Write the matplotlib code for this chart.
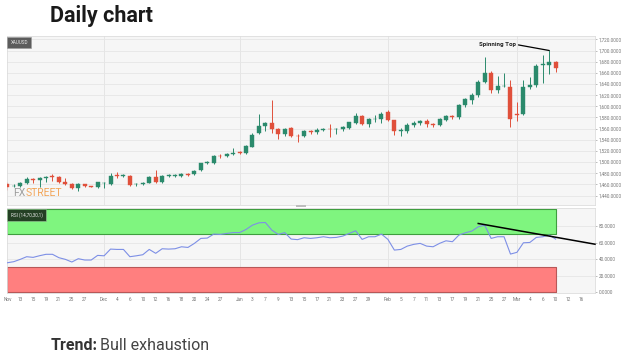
import numpy as np
import pandas as pd
import matplotlib
matplotlib.use("Agg")
import matplotlib.pyplot as plt
from matplotlib.patches import Rectangle

plt.rcParams['font.family'] = ['Roboto', 'DejaVu Sans']

# trading days shown on the chart (Dec 25 closed), plus a few future slots
all_days = pd.bdate_range('2019-11-11', '2020-03-16')
all_days = all_days[all_days != pd.Timestamp('2019-12-25')]

opens = [1460.7, 1456.5, 1457.7, 1463.1, 1469.5, 1467.9, 1472.0, 1474.5, 1473.9, 1463.7,
         1460.1, 1452.9, 1460.1, 1456.6, 1456.0, 1462.0, 1460.7, 1476.2, 1475.3, 1475.1,
         1460.3, 1460.7, 1463.1, 1473.9, 1464.5, 1475.3, 1475.5, 1475.1, 1478.6, 1478.0,
         1485.8, 1498.5, 1498.9, 1511.5, 1510.9, 1513.9, 1517.3, 1516.8, 1527.5, 1551.5,
         1564.6, 1570.6, 1559.3, 1549.8, 1561.6, 1547.2, 1546.7, 1555.7, 1553.4, 1557.5,
         1559.8, 1558.5, 1558.7, 1561.6, 1570.6, 1582.5, 1568.2, 1576.6, 1576.6, 1590.3,
         1575.4, 1556.2, 1556.2, 1566.0, 1569.5, 1573.6, 1568.0, 1566.5, 1575.5, 1582.5,
         1580.0, 1602.0, 1611.0, 1620.0, 1643.0, 1659.0, 1629.0, 1635.5, 1635.0, 1586.0,
         1586.0, 1635.0, 1638.0, 1674.0, 1674.0, 1680.0]
highs = [1464.9, 1460.7, 1464.9, 1473.9, 1471.0, 1472.7, 1475.1, 1478.6, 1475.0, 1470.9,
         1462.0, 1462.0, 1460.7, 1457.7, 1464.9, 1464.9, 1481.0, 1482.8, 1478.6, 1476.9,
         1463.1, 1464.9, 1475.7, 1485.8, 1476.9, 1478.6, 1478.0, 1481.0, 1479.8, 1485.8,
         1499.0, 1502.0, 1513.0, 1513.9, 1515.5, 1526.0, 1519.0, 1530.6, 1551.5, 1586.2,
         1572.4, 1611.2, 1561.0, 1561.5, 1563.0, 1549.8, 1557.5, 1557.5, 1560.5, 1561.0,
         1567.7, 1560.5, 1564.0, 1572.4, 1588.5, 1584.0, 1579.5, 1584.0, 1590.3, 1593.3,
         1576.0, 1560.5, 1569.5, 1574.0, 1576.0, 1577.0, 1570.0, 1578.5, 1584.0, 1584.0,
         1604.0, 1614.0, 1623.0, 1648.0, 1689.0, 1663.0, 1654.0, 1659.0, 1648.0, 1608.0,
         1647.0, 1652.0, 1675.0, 1692.0, 1701.0, 1681.0]
lows = [1450.0, 1454.7, 1456.0, 1460.7, 1463.1, 1456.0, 1464.9, 1466.7, 1462.0, 1459.0,
        1451.8, 1448.8, 1454.7, 1454.7, 1454.1, 1454.1, 1459.0, 1470.9, 1472.7, 1457.7,
        1457.7, 1459.0, 1461.9, 1461.9, 1463.1, 1472.7, 1472.7, 1473.9, 1475.7, 1476.8,
        1484.6, 1496.0, 1497.0, 1506.7, 1509.0, 1512.0, 1514.0, 1514.5, 1526.4, 1549.7,
        1555.7, 1552.6, 1540.8, 1546.7, 1545.0, 1535.4, 1545.0, 1550.0, 1550.0, 1555.0,
        1545.5, 1550.0, 1555.0, 1559.3, 1569.0, 1566.5, 1562.3, 1572.0, 1570.6, 1574.2,
        1548.5, 1547.0, 1551.5, 1563.0, 1566.0, 1562.0, 1562.0, 1565.0, 1574.0, 1578.0,
        1578.0, 1598.0, 1604.0, 1617.0, 1641.0, 1624.0, 1624.0, 1634.0, 1562.0, 1574.0,
        1584.0, 1631.0, 1634.0, 1641.0, 1657.0, 1661.0]
closes = [1455.9, 1457.5, 1463.1, 1469.1, 1468.5, 1470.9, 1473.0, 1473.5, 1463.7, 1460.7,
          1452.9, 1460.1, 1457.1, 1456.0, 1463.7, 1462.8, 1475.7, 1475.5, 1476.0, 1459.0,
          1461.0, 1463.1, 1473.9, 1463.7, 1475.1, 1476.0, 1476.2, 1478.6, 1476.8, 1484.6,
          1497.8, 1499.2, 1510.9, 1510.8, 1513.9, 1516.8, 1516.6, 1528.6, 1548.5, 1564.6,
          1570.6, 1559.3, 1549.8, 1559.3, 1546.7, 1546.5, 1555.7, 1553.4, 1557.5, 1559.0,
          1559.0, 1559.3, 1562.3, 1571.3, 1582.5, 1567.7, 1576.6, 1577.3, 1586.0, 1575.4,
          1555.7, 1557.2, 1565.9, 1570.5, 1573.6, 1568.0, 1566.0, 1577.0, 1582.5, 1580.8,
          1602.0, 1612.5, 1620.0, 1643.0, 1659.0, 1629.0, 1636.0, 1636.5, 1578.0, 1584.5,
          1635.0, 1638.0, 1673.0, 1675.0, 1680.0, 1668.0]

rsi = [35.6, 36.9, 39.7, 42.9, 42.1, 44.1, 45.8, 45.8, 41.7, 39.7,
       36.5, 40.5, 38.9, 38.9, 44.5, 44.0, 52.1, 51.7, 51.7, 42.9,
       44.0, 45.3, 51.7, 47.0, 52.5, 52.1, 52.5, 54.9, 54.1, 59.0,
       65.0, 65.4, 70.2, 69.8, 71.0, 72.0, 72.0, 75.8, 81.0, 83.8,
       84.2, 75.0, 69.8, 72.0, 64.2, 63.5, 65.8, 65.0, 65.8, 67.0,
       65.8, 66.2, 67.8, 71.0, 74.2, 63.8, 67.0, 67.0, 70.2, 63.8,
       50.9, 51.7, 55.7, 57.8, 59.0, 55.7, 54.9, 59.0, 62.1, 61.0,
       69.0, 71.8, 73.8, 79.0, 81.0, 65.0, 67.0, 67.0, 46.1, 48.2,
       59.7, 60.1, 66.2, 67.0, 69.0, 64.2]

tick_dates = ['2019-11-11', '2019-11-13', '2019-11-15', '2019-11-19', '2019-11-21',
              '2019-11-25', '2019-11-27', '2019-12-02', '2019-12-04', '2019-12-06',
              '2019-12-10', '2019-12-12', '2019-12-16', '2019-12-18', '2019-12-20',
              '2019-12-24', '2019-12-27', '2020-01-01', '2020-01-03', '2020-01-07',
              '2020-01-09', '2020-01-13', '2020-01-15', '2020-01-17', '2020-01-21',
              '2020-01-23', '2020-01-27', '2020-01-29', '2020-02-03', '2020-02-05',
              '2020-02-07', '2020-02-11', '2020-02-13', '2020-02-17', '2020-02-19',
              '2020-02-21', '2020-02-25', '2020-02-27', '2020-03-02', '2020-03-04',
              '2020-03-06', '2020-03-10', '2020-03-12', '2020-03-16']
tick_labels = ['Nov', '13', '15', '19', '21', '25', '27', 'Dec', '4', '6', '10', '12',
               '16', '18', '20', '24', '27', 'Jan', '3', '7', '9', '13', '15', '17',
               '21', '23', '27', '29', 'Feb', '5', '7', '11', '13', '17', '19', '21',
               '25', '27', 'Mar', '4', '6', '10', '12', '16']
month_starts = ['2019-12-02', '2020-01-01', '2020-02-03', '2020-03-02']

price_ticks = list(range(1440, 1721, 20))
rsi_ticks = [0, 20, 40, 60, 80]

# annotations
spin_bar = 84
rsi_trend_x = [73, 91.1]
rsi_trend_y = [83, 58]

GREEN = '#2b8a6c'
RED = '#e0503b'

x = np.arange(len(opens))
o = np.array(opens); c = np.array(closes)
h = np.array(highs); l = np.array(lows)
up = c >= o
cols = np.where(up, GREEN, RED)

def pos(d):
    return all_days.get_loc(pd.Timestamp(d))

fig = plt.figure(figsize=(6.28, 3.61), dpi=100)
W, H = 628, 361
x0, x1 = 7 / W, 595 / W
ax = fig.add_axes([x0, 1 - 205 / H, x1 - x0, (205 - 36) / H])
ax2 = fig.add_axes([x0, 1 - 292.5 / H, x1 - x0, (292.5 - 208) / H])

xlim = (-0.05, 91.1)
for a in (ax, ax2):
    a.set_facecolor('#f6f6f6')
    a.set_xlim(*xlim)
    for s in a.spines.values():
        s.set_color('#dddddd')
        s.set_linewidth(0.6)
    for m in month_starts:
        a.axvline(pos(m), color='#e2e2e2', lw=0.6, zorder=0)
    a.yaxis.tick_right()
    a.tick_params(axis='y', labelsize=3.4, colors='#8a8a8a', length=1.5, width=0.4,
                  pad=1.2)
    a.tick_params(axis='y', labelcolor='#777777')

# price panel
ax.set_ylim(1423, 1726)
ax.set_yticks(price_ticks)
ax.set_yticklabels([f'{v:,.4f}' for v in price_ticks])
for v in price_ticks:
    ax.axhline(v, color='#e6e6e6', lw=0.6, zorder=0)
ax.set_xticks([])

ax.vlines(x, l, h, colors=cols, lw=0.7, zorder=2)
body = np.maximum(np.abs(c - o), 0.9)
ax.bar(x, body, bottom=np.minimum(o, c), width=0.62, color=cols, edgecolor=cols,
       lw=0.3, zorder=3)

ax.text(0.006, 0.975, 'XAUUSD', transform=ax.transAxes, fontsize=3.3, color='#e8e8e8',
        va='top', ha='left',
        bbox=dict(boxstyle='square,pad=0.7', fc='#5c5c5c', ec='#9a9a9a', lw=0.4))

ax.annotate('Spinning Top', xy=(spin_bar, highs[spin_bar] - 1),
            xytext=(spin_bar - 5.2, highs[spin_bar] + 9), fontsize=4.4,
            fontweight='bold', color='#222222', ha='right', va='center',
            arrowprops=dict(arrowstyle='-', color='black', lw=0.9, shrinkA=0,
                            shrinkB=0, relpos=(1.0, 0.6)))

# watermark
fx = fig.text(13 / W, 1 - 196 / H, 'FX', fontsize=7.5, color='#9c9c9c',
              va='baseline')
fig.add_artist(plt.Annotation('STREET', xy=(1, 0), xycoords=fx, fontsize=7.5,
                              color='#f2a65a', va='bottom', ha='left'))

# RSI panel
ax2.set_ylim(-0.3, 101.7)
ax2.set_yticks(rsi_ticks)
ax2.set_yticklabels([f'{v:.4f}' for v in rsi_ticks])
for v in [20, 40, 60, 80]:
    ax2.axhline(v, color='#e6e6e6', lw=0.6, zorder=0)
band_x = [xlim[0], len(rsi) - 1]
ax2.fill_between(band_x, 70, 100, facecolor='#7ff57f', edgecolor='#3f9e3f', lw=0.8,
                 zorder=1)
ax2.fill_between(band_x, 0, 30, facecolor='#ff7f7f', edgecolor='#b85858', lw=0.8,
                 zorder=1)
ax2.plot(x, rsi, color='#7d8fe6', lw=0.8, zorder=3)
ax2.plot(rsi_trend_x, rsi_trend_y, color='black', lw=1.1, zorder=4, clip_on=False)

ax2.text(0.006, 0.955, 'RSI (14,70,30,1)', transform=ax2.transAxes, fontsize=3.3,
         color='#e8e8e8', va='top', ha='left',
         bbox=dict(boxstyle='square,pad=0.7', fc='#244024', ec='#9ac89a', lw=0.4))

ax2.set_xticks([pos(d) for d in tick_dates])
ax2.set_xticklabels(tick_labels)
ax2.tick_params(axis='x', labelsize=3.4, labelcolor='#777777', length=0, pad=3)

# separator handle between the panels
fig.add_artist(Rectangle((296 / W, 1 - 207.3 / H), 10 / W, 2 / H,
                         transform=fig.transFigure, fc='#bdbdbd', ec='none'))

fig.text(50 / W, 1 - 21.7 / H, 'Daily chart', fontsize=15.5, fontweight='bold',
         color='#1a1a1a', va='baseline')
fig.text(50.5 / W, 1 - 350.5 / H, 'Trend:', fontsize=11.5, fontweight='bold',
         color='#333333', va='baseline')
fig.text(100 / W, 1 - 350.5 / H, 'Bull exhaustion', fontsize=11.5, color='#444444',
         va='baseline')

fig.savefig('out.png', dpi=100, facecolor='white')
